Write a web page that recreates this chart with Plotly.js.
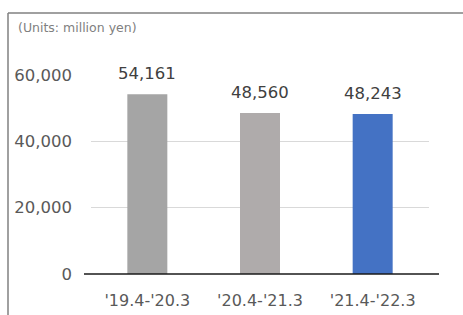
<!DOCTYPE html>
<html><head><meta charset="utf-8">
<script src="https://cdn.plot.ly/plotly-3.0.1.min.js"></script>
<style>html,body{margin:0;padding:0;background:#fff;}#chart{width:463px;height:315px;}</style>
</head><body><div id="chart"></div>
<script>
const periods = ["'19.4-'20.3", "'20.4-'21.3", "'21.4-'22.3"];
const sales = [54161, 48560, 48243];
const barColors = ["#A5A5A5", "#AFABAB", "#4472C4"];
const valueLabels = ["54,161", "48,560", "48,243"];
const yTickVals = [0, 20000, 40000, 60000];
const yTickText = ["0", "20,000", "40,000", "60,000"];
const unitsText = "(Units: million yen)";

const font = "DejaVu Sans, Verdana, sans-serif";
const L = 91, R = 34, T = 75, B = 41, W = 463, H = 315;
const pw = W - L - R, ph = H - T - B;
const px = x => (x - L) / pw;
const py = y => (H - B - y) / ph;

const trace = {
  type: 'bar', x: periods, y: sales,
  marker: {color: barColors, line: {width: 0}},
  hoverinfo: 'none'
};

const annotations = periods.map((p, i) => ({
  x: p, y: sales[i], xref: 'x', yref: 'y', text: valueLabels[i],
  showarrow: false, yanchor: 'bottom', yshift: 9,
  font: {family: font, size: 16.5, color: '#404040'}
}));
annotations.push({
  x: px(16), y: py(27), xref: 'paper', yref: 'paper', xanchor: 'left', yanchor: 'middle',
  text: unitsText, showarrow: false, font: {family: font, size: 12.5, color: '#808080'}
});

const layout = {
  width: W, height: H,
  margin: {l: L, r: R, t: T, b: B, pad: 0},
  paper_bgcolor: '#fff', plot_bgcolor: '#fff',
  showlegend: false, bargap: 0.645,
  font: {family: font, color: '#595959'},
  xaxis: {type: 'category', showgrid: false, zeroline: false, showline: false,
    ticks: '', tickfont: {family: font, size: 16, color: '#595959'}, ticklabelstandoff: 15},
  yaxis: {range: [0, 60000], tickvals: yTickVals, ticktext: yTickText,
    showgrid: true, gridcolor: '#D9D9D9', gridwidth: 1, zeroline: false, showline: false,
    ticks: '', tickfont: {family: font, size: 16.5, color: '#595959'}, ticklabelstandoff: 18},
  annotations: annotations,
  shapes: [
    {type: 'line', xref: 'paper', yref: 'paper', x0: px(84), x1: px(439), y0: 0, y1: 0,
     line: {color: '#1a1a1a', width: 1.5}},
    {type: 'line', xref: 'paper', yref: 'paper', x0: px(8), x1: px(8), y0: py(13), y1: py(320),
     line: {color: '#808080', width: 1.5}},
    {type: 'line', xref: 'paper', yref: 'paper', x0: px(8), x1: px(470), y0: py(13), y1: py(13),
     line: {color: '#808080', width: 1.5}}
  ]
};

Plotly.newPlot('chart', [trace], layout, {displayModeBar: false, staticPlot: true});
</script></body></html>
